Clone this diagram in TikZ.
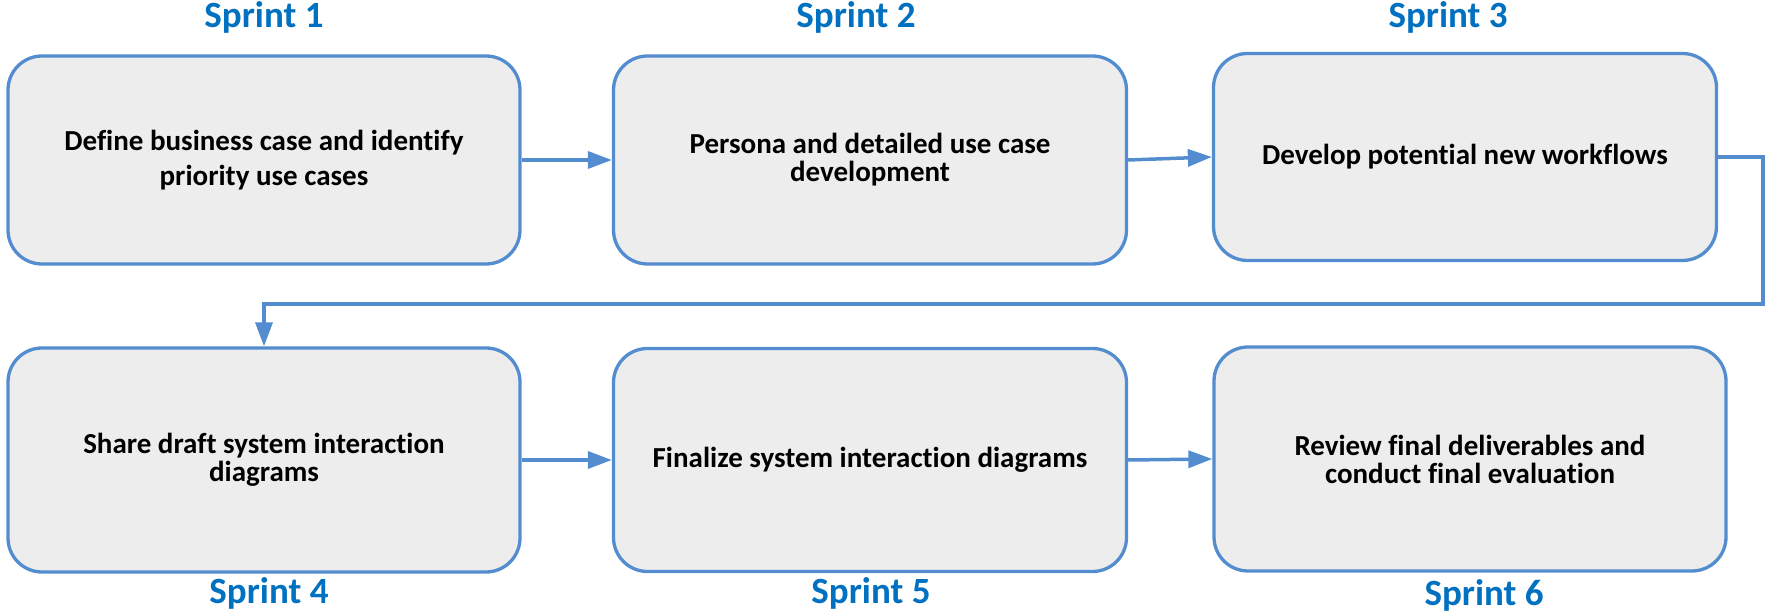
\documentclass[tikz,border=0pt]{standalone}
\usepackage{fontspec}
\setmainfont[Ligatures=NoCommon]{Carlito}
\usepackage{tikz}
\usetikzlibrary{calc}
\usetikzlibrary{arrows.meta}
\definecolor{boxline}{RGB}{83,141,208}
\definecolor{boxfill}{RGB}{237,237,237}
\definecolor{sprintblue}{RGB}{0,112,192}
\tikzset{>={Triangle[length=12pt,width=8.5pt]}}
\tikzset{
	task/.style={draw=boxline,fill=boxfill,line width=1.65pt,rounded corners=17pt,
		align=center,font=\bfseries\fontsize{14.5}{14}\selectfont,inner sep=0pt},
	sprint/.style={text=sprintblue,font=\bfseries\fontsize{18.5}{18}\selectfont},
	flow/.style={draw=boxline,line width=1.75pt,->}
}

\begin{document}
\begin{tikzpicture}[x=0.5pt,y=-0.5pt]
			\useasboundingbox (0,0) rectangle (1765,613);
			\node[task,minimum width=256pt,minimum height=104pt] (b1) at (264,160) {Define business case and identify\\[3.5pt] priority use cases};
			\node[task,minimum width=256.5pt,minimum height=104pt] (b2) at (870,160) {Persona and detailed use case\\ development};
			\node[task,minimum width=251.5pt,minimum height=103.5pt] (b3) at (1465,157) {Develop potential new workflows};
			\node[task,minimum width=256pt,minimum height=112pt] (b4) at (264,460) {Share draft system interaction\\ diagrams};
			\node[task,minimum width=256.5pt,minimum height=111.5pt] (b5) at (870,460) {Finalize system interaction diagrams};
			\node[task,minimum width=256pt,minimum height=112pt] (b6) at (1470,459) {Review final deliverables and\\ conduct final evaluation};
			
			\node[sprint] (s1) at (264,17) {Sprint 1};
			\node[sprint] (s2) at (856,17) {Sprint 2};
			\node[sprint] (s3) at (1448,17) {Sprint 3};
			\node[sprint] (s4) at (269,593) {Sprint 4};
			\node[sprint] (s5) at (871,593) {Sprint 5};
			\node[sprint] (s6) at (1484,595) {Sprint 6};
			
			\coordinate (R) at (1763,304);
			\draw[flow] (b1.east)--(b2.west);
			\draw[flow] (b2.east)--(b3.west);
			\draw[flow] (b3.east) -| (R) -| (b4.north);
			\draw[flow] (b4.east)--(b5.west);
			\draw[flow] (b5.east)--(b6.west);
		\end{tikzpicture}
\end{document}
